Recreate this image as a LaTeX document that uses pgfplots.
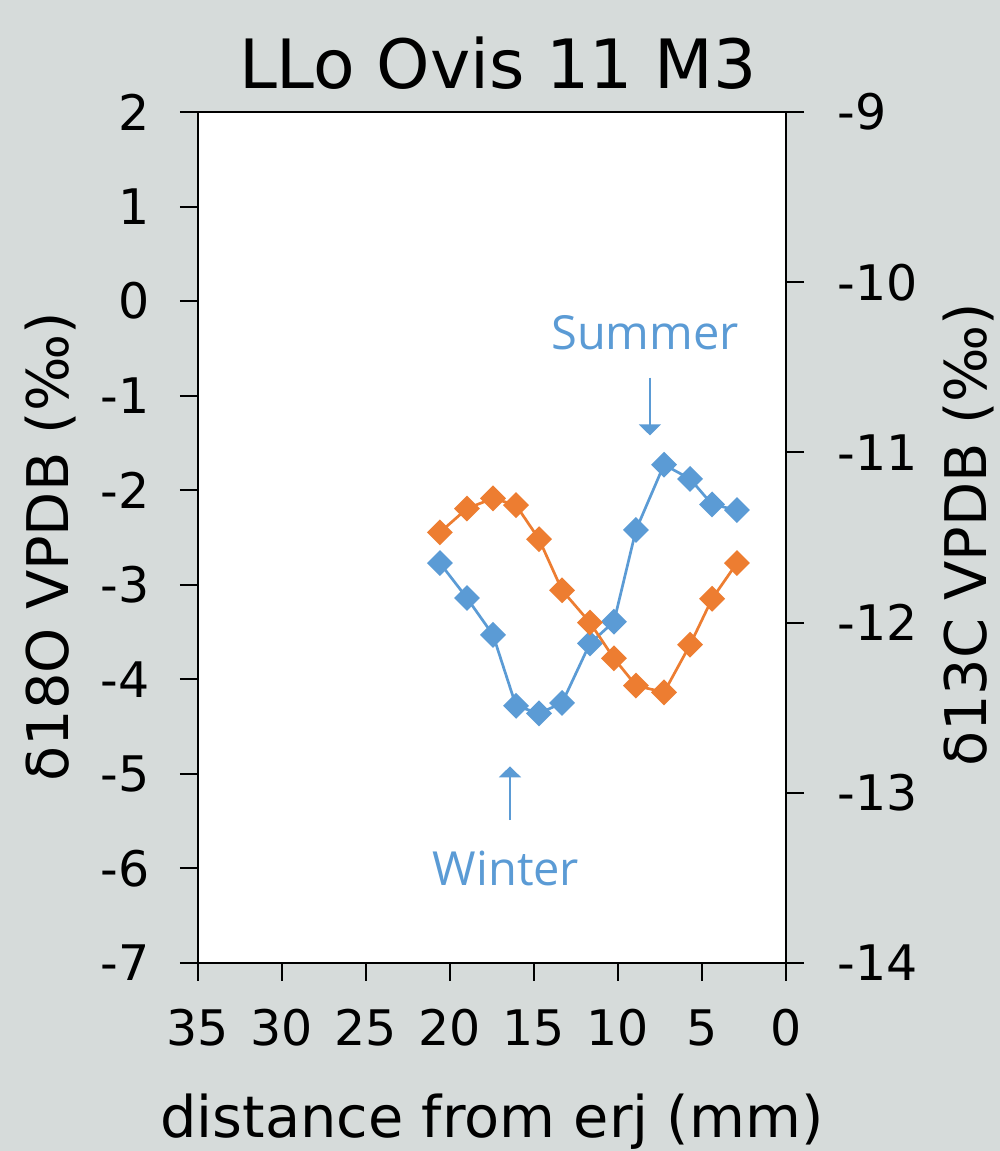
\documentclass[border=0pt]{standalone}
\usepackage{fontspec}
\setmainfont{DejaVu Sans}
\newfontfamily\annfont{Open Sans}
\usepackage{pgfplots}
\usepackage{pgfplotstable}
\pgfplotsset{compat=1.18}
\usetikzlibrary{arrows.meta}
\definecolor{bgc}{RGB}{214,219,218}
\definecolor{cblue}{RGB}{91,155,213}
\definecolor{corange}{RGB}{237,125,49}

\pgfplotstableread{
x y
20.60 -2.77
18.99 -3.14
17.44 -3.53
16.07 -4.28
14.70 -4.36
13.33 -4.25
11.67 -3.62
10.24 -3.39
8.93 -2.42
7.26 -1.73
5.71 -1.88
4.40 -2.15
2.92 -2.21
}\oxy

\pgfplotstableread{
x y
20.60 -11.47
18.99 -11.33
17.44 -11.27
16.07 -11.31
14.70 -11.51
13.33 -11.81
11.67 -12.00
10.24 -12.21
8.93 -12.37
7.26 -12.41
5.71 -12.13
4.40 -11.86
2.92 -11.65
}\carb

\begin{document}
\begin{tikzpicture}
\fill[bgc] (0,0) rectangle (500pt,575.5pt);
\pgfplotsset{common/.style={
  scale only axis, width=294pt, height=425.5pt,
  at={(99pt,94pt)}, anchor=south west,
  xmin=0, xmax=35, x dir=reverse,
  tick align=outside, major tick length=9pt,
  /pgf/number format/assume math mode=true,
  ticklabel style={font=\fontsize{24.5}{29}\selectfont, inner sep=0pt},
  label style={font=\fontsize{28.7}{34}\selectfont},
  axis line style={line width=1pt, black},
  every tick/.style={black, line width=1pt},
  clip=false,
}}
\begin{axis}[common,
  ymin=-7, ymax=2, ytick={-7,-6,...,2},
  xtick={0,5,...,35}, xtick pos=bottom, ytick pos=left,
  axis background/.style={fill=white},
  yticklabel style={anchor=east, xshift=-15pt},
  xticklabel style={anchor=north, yshift=-14pt},
  title={LLo Ovis 11 M3},
  title style={at={(axis description cs:0.51,1.0435)}, anchor=center, font=\fontsize{34}{40}\selectfont},
  xlabel={distance from erj (mm)},
  xlabel style={at={(axis description cs:0.5,-0.186)}, anchor=center},
  ylabel={δ18O VPDB (‰)},
  ylabel style={at={(axis description cs:-0.250,0.489)}, anchor=center},
]
\addplot[cblue, line width=1.35pt, mark=square*, mark size=3.9pt, mark options={rotate=45, solid, fill=cblue}] table[x=x,y=y]{\oxy};
\node[font=\annfont\fontsize{23.5}{28}\selectfont, text=cblue] at (axis cs:8.39,-0.33) {Summer};
\draw[cblue, line width=0.75pt, -{Triangle[width=11pt,length=5.5pt]}] (axis cs:8.1,-0.81) -- (axis cs:8.1,-1.42);
\node[font=\annfont\fontsize{23.5}{28}\selectfont, text=cblue] at (axis cs:16.67,-6.0) {Winter};
\draw[cblue, line width=0.75pt, -{Triangle[width=11pt,length=5.5pt]}] (axis cs:16.43,-5.49) -- (axis cs:16.43,-4.92);
\end{axis}
\begin{axis}[common,
  ymin=-14, ymax=-9, ytick={-14,-13,...,-9},
  axis x line=none, axis y line*=right,
  yticklabel style={anchor=west, xshift=16.5pt},
  ylabel={δ13C VPDB (‰)},
  ylabel style={at={(axis description cs:1.310,0.503)}, anchor=center},
]
\addplot[corange, line width=1.35pt, mark=square*, mark size=3.9pt, mark options={rotate=45, solid, fill=corange}] table[x=x,y=y]{\carb};
\end{axis}
\pgfresetboundingbox
\path[use as bounding box] (0,0) rectangle (500pt,575.5pt);
\end{tikzpicture}
\end{document}
